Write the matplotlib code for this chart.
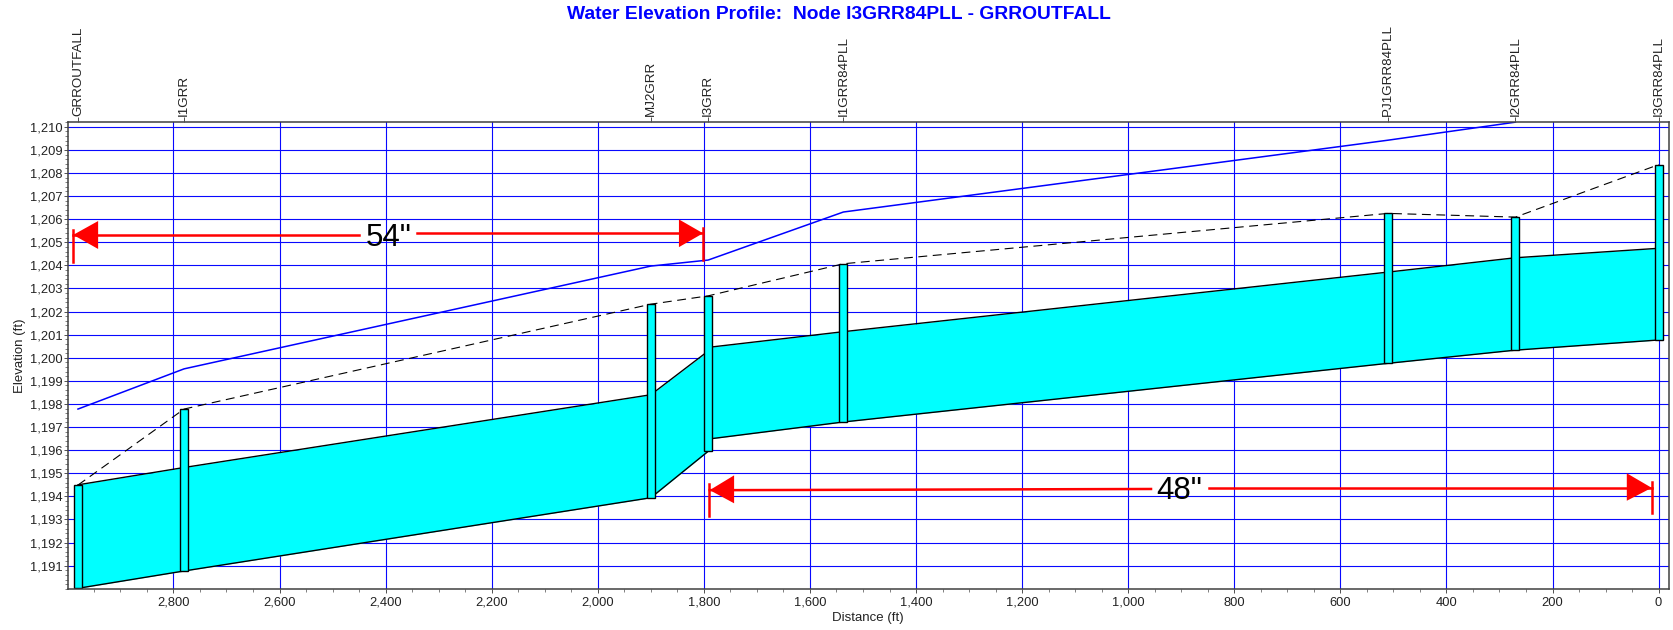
import matplotlib
matplotlib.use('Agg')
import matplotlib.pyplot as plt
from matplotlib.ticker import StrMethodFormatter, MultipleLocator

plt.rcParams['font.family'] = ['Liberation Sans', 'DejaVu Sans']

# nodes, upstream distance (ft)
node_names = ['GRROUTFALL', 'I1GRR', 'MJ2GRR', 'I3GRR', 'I1GRR84PLL', 'PJ1GRR84PLL', 'I2GRR84PLL', 'I3GRR84PLL']
node_x = [2980, 2780, 1900, 1792, 1537, 510, 270, 0]
node_top = [1194.48, 1197.78, 1202.32, 1202.68, 1204.07, 1206.25, 1206.09, 1208.36]
node_invert = [1190.02, 1190.77, 1193.94, 1195.95, 1197.22, 1199.76, 1200.33, 1200.77]
node_width = 15

# pipe crown / invert at the nodes
crown = [1194.50, 1195.25, 1198.40, 1200.29, 1200.45, 1201.13, 1203.71, 1204.33, 1204.74]
crown_x = [2980, 2780, 1900, 1792, 1792, 1537, 510, 270, 0]
invert = [1190.02, 1190.77, 1193.94, 1195.95, 1196.48, 1197.22, 1199.76, 1200.33, 1200.77]

# ground runs off the top of the scale after I2GRR84PLL
ground_x = [2980, 2780, 1900, 1792, 1537, 510, 270]
ground = [1197.78, 1199.52, 1203.97, 1204.23, 1206.31, 1209.42, 1210.2]

hgl = [1194.49, 1197.78, 1202.32, 1202.68, 1204.07, 1206.25, 1206.09, 1208.36]

x_ticks = list(range(0, 3000, 200))
y_ticks = list(range(1191, 1211))

# hand drawn pipe size markups
arrow_54_x = [2989, 2942, 2450, 2341, 1847, 1801.5]
arrow_54_y = [1205.32, 1205.32, 1205.32, 1205.39, 1205.39, 1205.39]
arrow_54_bar = [(2989, 1205.53, 1204.16), (1801.5, 1205.61, 1204.23)]
arrow_54_head = [(2989, 1205.32, 2942, 1205.92, 1204.71), (1801.5, 1205.39, 1847, 1205.99, 1204.79)]
arrow_54_label = (2395, 1205.2)

arrow_48_x = [1789, 1743, 957, 847, 60, 13]
arrow_48_y = [1194.27, 1194.27, 1194.32, 1194.37, 1194.37, 1194.37]
arrow_48_bar = [(1790, 1194.53, 1193.15), (13, 1194.63, 1193.26)]
arrow_48_head = [(1789, 1194.27, 1743, 1194.91, 1193.70), (13, 1194.37, 60, 1195.0, 1193.81)]
arrow_48_label = (903, 1194.24)


def draw_markup(xs, ys, bars, heads, label, text):
    ax.plot(xs[:3], ys[:3], color='#ff0000', lw=1.8, zorder=6)
    ax.plot(xs[3:], ys[3:], color='#ff0000', lw=1.8, zorder=6)
    for bx, y0, y1 in bars:
        ax.plot([bx, bx], [y0, y1], color='#ff0000', lw=1.8, zorder=6)
    for tx, ty, bx, y0, y1 in heads:
        ax.fill([tx, bx, bx], [ty, y0, y1], color='#ff0000', lw=0, zorder=6)
    ax.text(label[0], label[1], text, fontsize=22.5, ha='center', va='center', color='black', zorder=7)


fig = plt.figure(figsize=(16.73, 6.30), dpi=100)
ax = fig.add_axes([67.9 / 1673, 1 - 589 / 630, 1600.8 / 1673, 467.3 / 630])
ax.set_xlim(2999, -19)
ax.set_ylim(1189.99, 1210.22)

ax.set_xticks(x_ticks)
ax.set_yticks(y_ticks)
ax.xaxis.set_minor_locator(MultipleLocator(50))
ax.yaxis.set_minor_locator(MultipleLocator(0.2))
ax.xaxis.set_major_formatter(StrMethodFormatter('{x:,.0f}'))
ax.yaxis.set_major_formatter(StrMethodFormatter('{x:,.0f}'))
ax.grid(True, which='major', color='#0808ff', lw=0.8, zorder=1)
ax.set_axisbelow(True)
ax.tick_params(which='major', length=3, width=0.7, color='#505050', labelsize=9.3, labelcolor='#222222')
ax.tick_params(which='minor', length=2.2, width=0.7, color='#808080')
ax.tick_params(axis='x', which='major', pad=2.5)
ax.tick_params(axis='y', which='major', pad=0.7)
for s in ax.spines.values():
    s.set_color('#404040')
    s.set_linewidth(1.1)
    s.set_zorder(8)

ax.fill_between(crown_x, invert, crown, color='#00ffff', lw=0, zorder=2)
ax.plot(crown_x[:4], crown[:4], color='black', lw=1.0, zorder=3)
ax.plot(crown_x[4:], crown[4:], color='black', lw=1.0, zorder=3)
ax.plot(crown_x, invert, color='black', lw=1.0, zorder=3)

ax.plot(ground_x, ground, color='#0000ff', lw=1.1, zorder=3)
ax.plot(node_x, hgl, color='black', lw=0.8, dashes=(8, 5), zorder=3)

for x, top, bot in zip(node_x, node_top, node_invert):
    ax.bar(x, top - bot, bottom=bot, width=node_width, color='#00ffff', edgecolor='black', lw=1.0, zorder=4)

draw_markup(arrow_54_x, arrow_54_y, arrow_54_bar, arrow_54_head, arrow_54_label, '54"')
draw_markup(arrow_48_x, arrow_48_y, arrow_48_bar, arrow_48_head, arrow_48_label, '48"')

ax.set_xlabel('Distance (ft)', fontsize=9.5, color='#222222')
ax.xaxis.set_label_coords(0.5, -0.062)
ax.xaxis.label.set_va('center')
ax.set_ylabel('Elevation (ft)', fontsize=9.5, color='#222222')
ax.yaxis.set_label_coords(-0.030, 0.5)
ax.yaxis.label.set_va('center')

# node names along the top
top = ax.twiny()
top.set_xlim(ax.get_xlim())
top.set_xticks(node_x)
top.set_xticklabels(node_names, rotation=90, fontsize=9.6, color='#222222')
top.tick_params(axis='x', length=3.6, width=0.7, color='#505050', pad=0.5)
for s in top.spines.values():
    s.set_visible(False)

fig.text(839 / 1673, 1 - 14.5 / 630, 'Water Elevation Profile:  Node I3GRR84PLL - GRROUTFALL',
         fontsize=13.9, fontweight='bold', color='#0000ff', ha='center', va='center')

fig.savefig('out.png', dpi=100)
